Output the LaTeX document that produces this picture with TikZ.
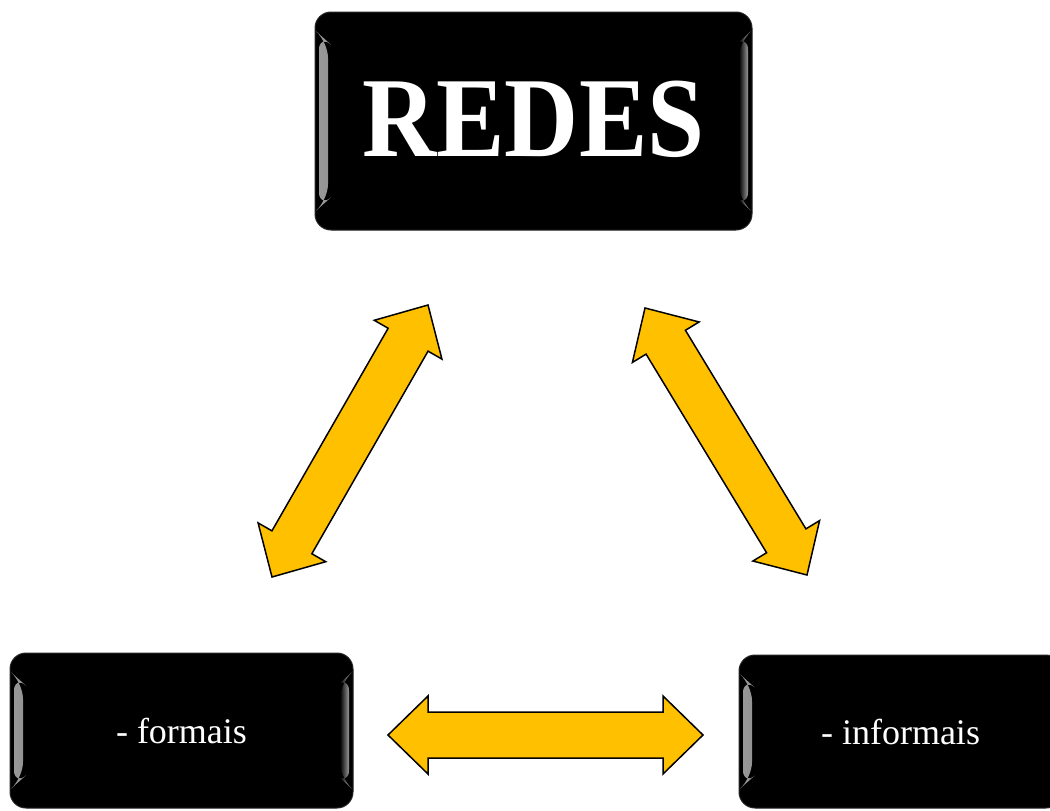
\documentclass[tikz,border=0pt]{standalone}
\usepackage{fontspec}
\setmainfont{Liberation Serif}
\newfontfamily\titlefont[FakeStretch=0.9]{Liberation Serif}
\usetikzlibrary{calc}
\definecolor{gold}{HTML}{FFC000}
\newcommand{\hlen}{40pt}
\newcommand{\hwid}{39pt}
\newcommand{\swid}{23pt}
\newcommand{\dblarrow}[2]{
	\draw [yarrow] (#1)
	-- ($(#1)!\hlen!(#2)!\hwid!90:(#2)$) -- ($(#1)!\hlen!(#2)!\swid!90:(#2)$)
	-- ($(#2)!\hlen!(#1)!\swid!-90:(#1)$) -- ($(#2)!\hlen!(#1)!\hwid!-90:(#1)$)
	-- (#2)
	-- ($(#2)!\hlen!(#1)!\hwid!90:(#1)$) -- ($(#2)!\hlen!(#1)!\swid!90:(#1)$)
	-- ($(#1)!\hlen!(#2)!\swid!-90:(#2)$) -- ($(#1)!\hlen!(#2)!\hwid!-90:(#2)$)
	-- cycle;
	}
\begin{document}
\begin{tikzpicture}[
      x=1pt, y=-1pt,
      box/.style={rectangle, rounded corners=16pt, fill=black, draw=black!85,
        line width=1pt, text=white, inner sep=0pt,
        path picture={
          \fill[left color=black!40, right color=black]
            ([xshift=4pt,yshift=-22pt]path picture bounding box.north west)
            -- ([xshift=13pt,yshift=-30pt]path picture bounding box.north west)
            -- ([xshift=13pt,yshift=30pt]path picture bounding box.south west)
            -- ([xshift=4pt,yshift=22pt]path picture bounding box.south west) -- cycle;
          \fill[left color=black, right color=black!40]
            ([xshift=-13pt,yshift=-30pt]path picture bounding box.north east)
            -- ([xshift=-4pt,yshift=-22pt]path picture bounding box.north east)
            -- ([xshift=-4pt,yshift=22pt]path picture bounding box.south east)
            -- ([xshift=-13pt,yshift=30pt]path picture bounding box.south east) -- cycle;
        }},
      yarrow/.style={fill=gold, draw=black, line width=1.5pt, line join=miter},
      label/.style={font=\fontsize{36}{42}\selectfont}
    ]
    \useasboundingbox (0,0) rectangle (1050,811);
    % the three boxes
    \node[box, minimum width=437pt, minimum height=218pt,
      font=\titlefont\bfseries\fontsize{114}{114}\selectfont] (redes) at (533.5,121) {\raisebox{4pt}{REDES}};
    \node[box, label, minimum width=343pt, minimum height=155pt] (formais) at (181.5,730.5) {\raisebox{-5pt}{- formais}};
    \node[box, label, minimum width=323pt, minimum height=153pt] (informais) at (900.5,731.5) {\raisebox{-5pt}{- informais}};
    % ends of the arrows
    \coordinate (lbot) at (272,577);
    \coordinate (ltop) at (428,305);
    \coordinate (rtop) at (645,308);
    \coordinate (rbot) at (807,575);
    \coordinate (hleft) at (388,735);
    \coordinate (hright) at (703,735);
    % double arrows
    \dblarrow{lbot}{ltop};
    \dblarrow{rtop}{rbot};
    \dblarrow{hleft}{hright};
\end{tikzpicture}
\end{document}
